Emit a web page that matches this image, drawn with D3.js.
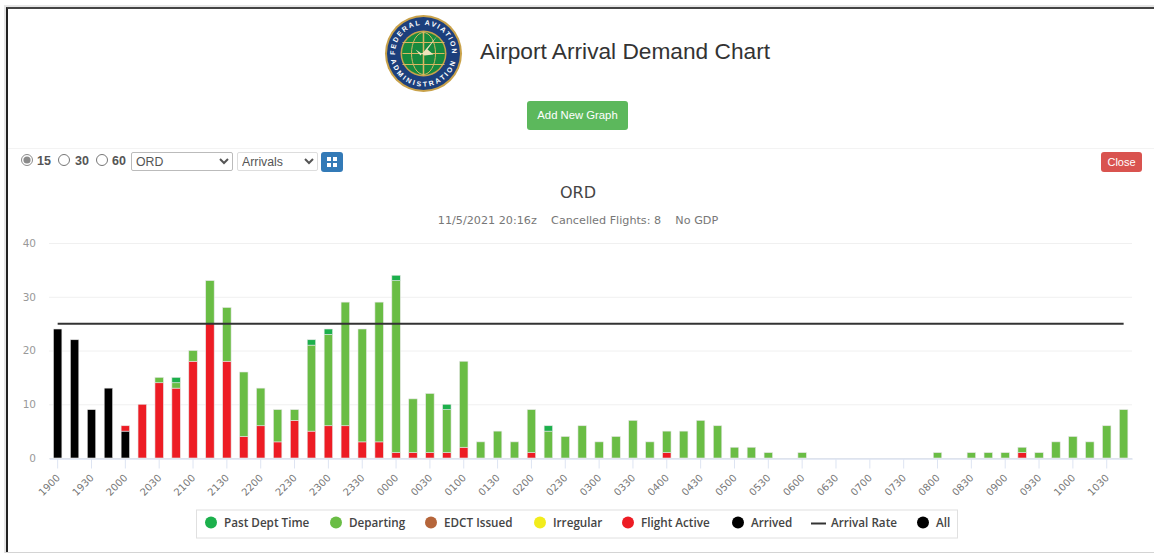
<!DOCTYPE html>
<html>
<head>
<meta charset="utf-8">
<title>Airport Arrival Demand Chart</title>
<script src="https://cdn.jsdelivr.net/npm/d3@7"></script>
<style>
html, body { margin: 0; padding: 0; background: #fff; }
body { width: 1154px; height: 553px; position: relative; overflow: hidden; font-family: "Liberation Sans", Arial, sans-serif; }
#frame-grey { position: absolute; left: 4px; top: 5px; right: 0; bottom: 0; border-left: 2px solid #e6e6e6; border-top: 2px solid #e6e6e6; border-bottom: 1px solid #d4d4d4; }
#frame { position: absolute; left: 6px; top: 7px; right: 0; bottom: 1px; border-left: 2px solid #222; border-top: 2px solid #444; }
#heading { position: absolute; left: 480px; top: 37px; font-size: 22.7px; line-height: 28px; color: #333; }
.btn { position: absolute; color: #fff; border-radius: 3px; text-align: center; }
#add { left: 527px; top: 101px; width: 101px; height: 29px; line-height: 28px; font-size: 11.3px; background: #5cb85c; border: 0; }
#close { left: 1101px; top: 152px; width: 41px; height: 20px; line-height: 20px; font-size: 11px; background: #d9534f; }
#grid-btn { left: 321px; top: 152px; width: 22px; height: 20px; background: #337ab7; }
#grid-btn i { position: absolute; width: 4px; height: 4px; background: #fff; }
#rule { position: absolute; left: 8px; right: 0; top: 148px; height: 1px; background: #f3f3f3; }
.radio { position: absolute; margin: 0; width: 12px; height: 12px; top: 154px; accent-color: #8a8a8a; }
.rlabel { position: absolute; top: 154px; font-size: 12.5px; line-height: 14px; font-weight: bold; color: #555; }
select { position: absolute; top: 152px; height: 19px; padding: 0; font-family: "Liberation Sans", Arial, sans-serif; font-size: 12.3px; color: #555; background: #fff; border: 1px solid #bbb; border-radius: 2px; }
#chart { position: absolute; left: 0; top: 0; }
</style>
</head>
<body>
<div id="frame-grey"></div>
<div id="frame"></div>
<svg id="logo" width="1154" height="140" style="position:absolute;left:0;top:0"></svg>
<div id="heading">Airport Arrival Demand Chart</div>
<div id="add" class="btn">Add New Graph</div>
<div id="rule"></div>
<input class="radio" type="radio" name="bin" style="left:21px" checked>
<span class="rlabel" style="left:37px">15</span>
<input class="radio" type="radio" name="bin" style="left:58px">
<span class="rlabel" style="left:75px">30</span>
<input class="radio" type="radio" name="bin" style="left:96px">
<span class="rlabel" style="left:112px">60</span>
<select style="left:131px;width:102px"><option>ORD</option></select>
<select style="left:237px;width:81px;border-color:#ddd"><option>Arrivals</option></select>
<div id="grid-btn" class="btn"><i style="left:6px;top:5px"></i><i style="left:12px;top:5px"></i><i style="left:6px;top:11px"></i><i style="left:12px;top:11px"></i></div>
<div id="close" class="btn">Close</div>
<svg id="chart" width="1154" height="553"></svg>

<script>
var categories = ["1900","1915","1930","1945","2000","2015","2030","2045","2100","2115","2130","2145","2200","2215","2230","2245",
	"2300","2315","2330","2345","0000","0015","0030","0045","0100","0115","0130","0145","0200","0215","0230","0245",
	"0300","0315","0330","0345","0400","0415","0430","0445","0500","0515","0530","0545","0600","0615","0630","0645",
	"0700","0715","0730","0745","0800","0815","0830","0845","0900","0915","0930","0945","1000","1015","1030","1045"];

var arrived = [24,22,9,13,5,0,0,0,0,0,0,0,0,0,0,0,
	0,0,0,0,0,0,0,0,0,0,0,0,0,0,0,0,
	0,0,0,0,0,0,0,0,0,0,0,0,0,0,0,0,
	0,0,0,0,0,0,0,0,0,0,0,0,0,0,0,0];
var flightActive = [0,0,0,0,1,10,14,13,18,25,18,4,6,3,7,5,
	6,6,3,3,1,1,1,1,2,0,0,0,1,0,0,0,
	0,0,0,0,1,0,0,0,0,0,0,0,0,0,0,0,
	0,0,0,0,0,0,0,0,0,1,0,0,0,0,0,0];
var irregular = [0,0,0,0,0,0,0,0,0,0,0,0,0,0,0,0,
	0,0,0,0,0,0,0,0,0,0,0,0,0,0,0,0,
	0,0,0,0,0,0,0,0,0,0,0,0,0,0,0,0,
	0,0,0,0,0,0,0,0,0,0,0,0,0,0,0,0];
var edctIssued = [0,0,0,0,0,0,0,0,0,0,0,0,0,0,0,0,
	0,0,0,0,0,0,0,0,0,0,0,0,0,0,0,0,
	0,0,0,0,0,0,0,0,0,0,0,0,0,0,0,0,
	0,0,0,0,0,0,0,0,0,0,0,0,0,0,0,0];
var departing = [0,0,0,0,0,0,1,1,2,8,10,12,7,6,2,16,
	17,23,21,26,32,10,11,8,16,3,5,3,8,5,4,6,
	3,4,7,3,4,5,7,6,2,2,1,0,1,0,0,0,
	0,0,0,0,1,0,1,1,1,1,1,3,4,3,6,9];
var pastDept = [0,0,0,0,0,0,0,1,0,0,0,0,0,0,0,1,
	1,0,0,0,1,0,0,1,0,0,0,0,0,1,0,0,
	0,0,0,0,0,0,0,0,0,0,0,0,0,0,0,0,
	0,0,0,0,0,0,0,0,0,0,0,0,0,0,0,0];
var arrivalRate = [25,25,25,25,25,25,25,25,25,25,25,25,25,25,25,25,
	25,25,25,25,25,25,25,25,25,25,25,25,25,25,25,25,
	25,25,25,25,25,25,25,25,25,25,25,25,25,25,25,25,
	25,25,25,25,25,25,25,25,25,25,25,25,25,25,25,25];

var yTicks = [0,10,20,30,40];
var xTicks = categories.filter(function(d, i) { return i % 2 == 0; });

var legendNames = ["Past Dept Time","Departing","EDCT Issued","Irregular","Flight Active","Arrived","Arrival Rate","All"];
var legendColors = ["#1cb04c","#6abd45","#b5653a","#f2ec1c","#ed1c24","#000000","#333333","#000000"];

// stack order, bottom to top
var seriesKeys = ["Arrived","Flight Active","Irregular","EDCT Issued","Departing","Past Dept Time"];
var seriesValues = [arrived, flightActive, irregular, edctIssued, departing, pastDept];

var chartFont = '"DejaVu Sans", sans-serif';
var labelColor = "#777";

var svg = d3.select("#chart");

var x = d3.scaleBand().domain(categories).range([49.2, 1132.1]).paddingInner(0.5).paddingOuter(0.25);
var y = d3.scaleLinear().domain([0, 40]).range([458, 243]);

// table for d3.stack, one row per time bin
var rows = categories.map(function(c, i) {
	var row = { time: c };
	seriesKeys.forEach(function(k, j) { row[k] = seriesValues[j][i]; });
	return row;
});
var stacked = d3.stack().keys(seriesKeys)(rows);

// titles
svg.append("text").attr("x", 578).attr("y", 198).attr("text-anchor", "middle")
	.attr("font-family", chartFont).attr("font-size", 16).attr("fill", "#444").text("ORD");
svg.append("text").attr("x", 578).attr("y", 224).attr("text-anchor", "middle")
	.attr("font-family", chartFont).attr("font-size", 11.2).attr("fill", labelColor)
	.style("white-space", "pre")
	.text("11/5/2021 20:16z    Cancelled Flights: 8    No GDP");

// y axis, gridlines only
var yAxis = d3.axisLeft(y).tickValues(yTicks).tickSize(-(1132 - 49)).tickPadding(13);
var yG = svg.append("g").attr("transform", "translate(49,0)").call(yAxis);
yG.select(".domain").remove();
yG.selectAll("line").attr("stroke", "#f0f0f0");
yG.selectAll("text").attr("font-family", chartFont).attr("font-size", 10.5).attr("fill", "#999");

// x axis
var xAxis = d3.axisBottom(x).tickValues(xTicks).tickSize(10).tickSizeOuter(0);
var xG = svg.append("g").attr("transform", "translate(0,458.5)").call(xAxis);
xG.select(".domain").attr("stroke", "#ccd6eb");
xG.selectAll("line").attr("stroke", "#dde4f2");
xG.selectAll("text")
	.attr("font-family", chartFont).attr("font-size", 10).attr("fill", labelColor)
	.attr("text-anchor", "end").attr("dy", 0).attr("x", 3).attr("y", 20)
	.attr("transform", "rotate(-45 3 20)");

// bars
var colorOf = d3.scaleOrdinal().domain(legendNames).range(legendColors);
svg.append("g").selectAll("g").data(stacked).enter().append("g")
	.attr("fill", function(d) { return colorOf(d.key); })
	.selectAll("rect").data(function(d) { return d; }).enter().append("rect")
	.attr("x", function(d) { return x(d.data.time); })
	.attr("width", x.bandwidth())
	.attr("y", function(d) { return y(d[1]); })
	.attr("height", function(d) { return y(d[0]) - y(d[1]); })
	.attr("stroke", "#e6e6e6").attr("stroke-width", 0.6);

// arrival rate
var line = d3.line()
	.x(function(d, i) { return x(categories[i]) + x.bandwidth() / 2; })
	.y(function(d) { return y(d); });
svg.append("path").datum(arrivalRate).attr("d", line)
	.attr("fill", "none").attr("stroke", "#333").attr("stroke-width", 2);

// legend
var legendX = [211, 336, 431, 540, 628, 738, 811, 923];
var legend = svg.append("g");
legend.append("rect").attr("x", 196.5).attr("y", 510).attr("width", 761).attr("height", 28)
	.attr("fill", "#fff").attr("stroke", "#e0e0e0");
var items = legend.selectAll("g").data(legendNames).enter().append("g")
	.attr("transform", function(d, i) { return "translate(" + legendX[i] + ",522.5)"; });
items.each(function(d, i) {
	var g = d3.select(this);
	if (d == "Arrival Rate") {
		g.append("line").attr("x1", 0).attr("x2", 15).attr("y1", 1).attr("y2", 1)
			.attr("stroke", legendColors[i]).attr("stroke-width", 2);
		g.append("text").attr("x", 20).attr("y", 4.5);
	} else {
		g.append("circle").attr("r", 6).attr("fill", legendColors[i]);
		g.append("text").attr("x", 13).attr("y", 4.5);
	}
	g.select("text").attr("font-family", '"Open Sans", sans-serif').attr("font-size", 11.7)
		.attr("font-weight", 600).attr("fill", "#444").text(d);
});

// FAA seal
var logo = d3.select("#logo").append("g").attr("transform", "translate(423.5,53.5)");
logo.append("circle").attr("r", 38.5).attr("fill", "#c9a24a");
logo.append("circle").attr("r", 36.5).attr("fill", "#1c3f7c");
logo.append("circle").attr("r", 23).attr("fill", "#c9a24a");
logo.append("circle").attr("r", 21.5).attr("fill", "#178a3e");
[-11, 0, 11].forEach(function(o) {
	logo.append("line").attr("x1", -21).attr("x2", 21).attr("y1", o).attr("y2", o).attr("stroke", "#d9b864").attr("stroke-width", 1);
});
logo.append("ellipse").attr("rx", 12).attr("ry", 21).attr("fill", "none").attr("stroke", "#d9b864");
logo.append("line").attr("y1", -22).attr("y2", 22).attr("stroke", "#d9b864").attr("stroke-width", 1.5);
logo.append("path").attr("d", d3.line()([[-3, 2], [14, -18], [4, -4], [10, 1], [1, 2], [-8, -4]]))
	.attr("fill", "#efe3bd");
var defs = logo.append("defs");
defs.append("path").attr("id", "seal-top").attr("d", "M-27,9 A28.5,28.5 0 1 1 27,9");
defs.append("path").attr("id", "seal-bottom").attr("d", "M-32,-9 A33.2,33.2 0 1 0 32,-9");
logo.append("text").attr("font-family", '"Liberation Sans", sans-serif').attr("font-size", 7).attr("font-weight", "bold")
	.attr("fill", "#fff").attr("text-anchor", "middle").attr("letter-spacing", 1.6)
	.append("textPath").attr("href", "#seal-top").attr("startOffset", "50%").text("FEDERAL AVIATION");
logo.append("text").attr("font-family", '"Liberation Sans", sans-serif').attr("font-size", 7).attr("font-weight", "bold")
	.attr("fill", "#fff").attr("text-anchor", "middle").attr("letter-spacing", 2.2)
	.append("textPath").attr("href", "#seal-bottom").attr("startOffset", "50%").text("ADMINISTRATION");
</script>
</body>
</html>
